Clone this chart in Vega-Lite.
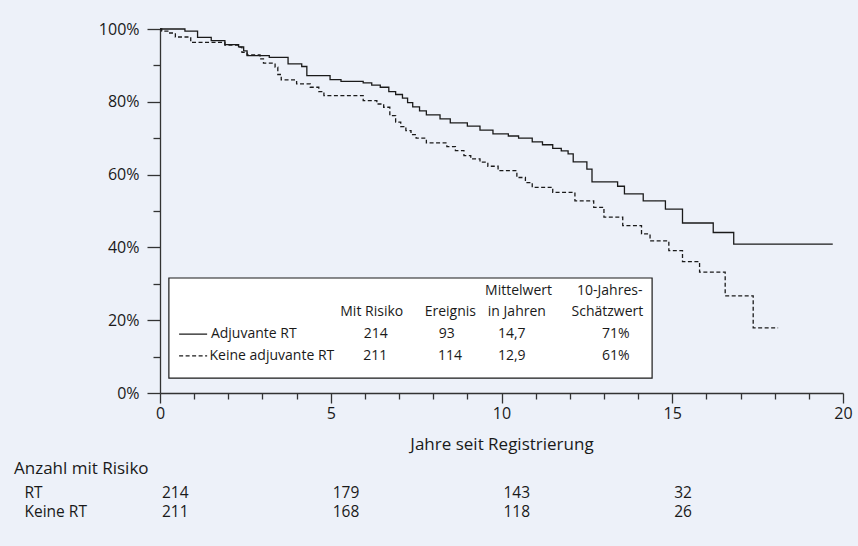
{
  "$schema": "https://vega.github.io/schema/vega-lite/v6.json",
  "autosize": {"type": "pad"},
  "padding": {"left": 14, "top": 21, "right": 8, "bottom": 30},
  "background": "#edf1f9",
  "config": {
    "view": {"stroke": null},
    "font": "Open Sans",
    "axis": {"labelFont": "Open Sans", "titleFont": "Open Sans", "labelColor": "#1a1a1a", "titleColor": "#1a1a1a", "domainColor": "#333333", "tickColor": "#333333", "grid": false, "labelFontSize": 16, "titleFontSize": 17, "titleFontWeight": "normal", "domainWidth": 1.3, "tickWidth": 1.3},
    "text": {"font": "Open Sans", "color": "#1a1a1a"}
  },
  "datasets": {
    "km": [
      {"group": "Adjuvante RT", "t": 0, "s": 100},
      {"group": "Adjuvante RT", "t": 0.73, "s": 99.4},
      {"group": "Adjuvante RT", "t": 1.1, "s": 97.7},
      {"group": "Adjuvante RT", "t": 1.5, "s": 96.8},
      {"group": "Adjuvante RT", "t": 1.9, "s": 95.7},
      {"group": "Adjuvante RT", "t": 2.3, "s": 95.1},
      {"group": "Adjuvante RT", "t": 2.45, "s": 94.0},
      {"group": "Adjuvante RT", "t": 2.55, "s": 92.7},
      {"group": "Adjuvante RT", "t": 3.2, "s": 92.2},
      {"group": "Adjuvante RT", "t": 3.75, "s": 90.4},
      {"group": "Adjuvante RT", "t": 4.15, "s": 89.7},
      {"group": "Adjuvante RT", "t": 4.3, "s": 87.2},
      {"group": "Adjuvante RT", "t": 4.98, "s": 86.1},
      {"group": "Adjuvante RT", "t": 5.3, "s": 85.6},
      {"group": "Adjuvante RT", "t": 5.95, "s": 85.2},
      {"group": "Adjuvante RT", "t": 6.2, "s": 84.6},
      {"group": "Adjuvante RT", "t": 6.45, "s": 84.0},
      {"group": "Adjuvante RT", "t": 6.7, "s": 82.8},
      {"group": "Adjuvante RT", "t": 6.9, "s": 82.0},
      {"group": "Adjuvante RT", "t": 7.1, "s": 81.0},
      {"group": "Adjuvante RT", "t": 7.25, "s": 79.8},
      {"group": "Adjuvante RT", "t": 7.4, "s": 78.6},
      {"group": "Adjuvante RT", "t": 7.6, "s": 77.5},
      {"group": "Adjuvante RT", "t": 7.8, "s": 76.4},
      {"group": "Adjuvante RT", "t": 8.2, "s": 75.3},
      {"group": "Adjuvante RT", "t": 8.5, "s": 74.2},
      {"group": "Adjuvante RT", "t": 9.0, "s": 73.3},
      {"group": "Adjuvante RT", "t": 9.37, "s": 72.2},
      {"group": "Adjuvante RT", "t": 9.75, "s": 71.2},
      {"group": "Adjuvante RT", "t": 10.2, "s": 70.6},
      {"group": "Adjuvante RT", "t": 10.5, "s": 70.0},
      {"group": "Adjuvante RT", "t": 10.9, "s": 69.0},
      {"group": "Adjuvante RT", "t": 11.2, "s": 68.2},
      {"group": "Adjuvante RT", "t": 11.5, "s": 67.2},
      {"group": "Adjuvante RT", "t": 11.75, "s": 66.5},
      {"group": "Adjuvante RT", "t": 11.95, "s": 65.7},
      {"group": "Adjuvante RT", "t": 12.1, "s": 63.5},
      {"group": "Adjuvante RT", "t": 12.5, "s": 61.5},
      {"group": "Adjuvante RT", "t": 12.65, "s": 58.0},
      {"group": "Adjuvante RT", "t": 13.4, "s": 56.8},
      {"group": "Adjuvante RT", "t": 13.6, "s": 54.7},
      {"group": "Adjuvante RT", "t": 14.15, "s": 52.8},
      {"group": "Adjuvante RT", "t": 14.8, "s": 50.5},
      {"group": "Adjuvante RT", "t": 15.3, "s": 46.7},
      {"group": "Adjuvante RT", "t": 16.2, "s": 44.1},
      {"group": "Adjuvante RT", "t": 16.8, "s": 40.9},
      {"group": "Adjuvante RT", "t": 19.7, "s": 40.9},
      {"group": "Keine adjuvante RT", "t": 0, "s": 100},
      {"group": "Keine adjuvante RT", "t": 0.05, "s": 99.4},
      {"group": "Keine adjuvante RT", "t": 0.23, "s": 98.9},
      {"group": "Keine adjuvante RT", "t": 0.45, "s": 97.8},
      {"group": "Keine adjuvante RT", "t": 0.9, "s": 96.3},
      {"group": "Keine adjuvante RT", "t": 1.9, "s": 95.6},
      {"group": "Keine adjuvante RT", "t": 2.3, "s": 95.0},
      {"group": "Keine adjuvante RT", "t": 2.4, "s": 93.6},
      {"group": "Keine adjuvante RT", "t": 2.55, "s": 92.9},
      {"group": "Keine adjuvante RT", "t": 2.93, "s": 91.8},
      {"group": "Keine adjuvante RT", "t": 3.03, "s": 90.6},
      {"group": "Keine adjuvante RT", "t": 3.37, "s": 89.5},
      {"group": "Keine adjuvante RT", "t": 3.45, "s": 87.5},
      {"group": "Keine adjuvante RT", "t": 3.55, "s": 86.0},
      {"group": "Keine adjuvante RT", "t": 4.0, "s": 84.9},
      {"group": "Keine adjuvante RT", "t": 4.4, "s": 84.0},
      {"group": "Keine adjuvante RT", "t": 4.65, "s": 82.8},
      {"group": "Keine adjuvante RT", "t": 4.8, "s": 81.7},
      {"group": "Keine adjuvante RT", "t": 5.95, "s": 80.3},
      {"group": "Keine adjuvante RT", "t": 6.35, "s": 79.4},
      {"group": "Keine adjuvante RT", "t": 6.55, "s": 78.5},
      {"group": "Keine adjuvante RT", "t": 6.73, "s": 76.2},
      {"group": "Keine adjuvante RT", "t": 6.9, "s": 74.4},
      {"group": "Keine adjuvante RT", "t": 7.05, "s": 73.2},
      {"group": "Keine adjuvante RT", "t": 7.2, "s": 72.1},
      {"group": "Keine adjuvante RT", "t": 7.35, "s": 71.0},
      {"group": "Keine adjuvante RT", "t": 7.5, "s": 70.0},
      {"group": "Keine adjuvante RT", "t": 7.8, "s": 68.7},
      {"group": "Keine adjuvante RT", "t": 8.4, "s": 67.7},
      {"group": "Keine adjuvante RT", "t": 8.65, "s": 66.6},
      {"group": "Keine adjuvante RT", "t": 8.9, "s": 65.2},
      {"group": "Keine adjuvante RT", "t": 9.1, "s": 64.3},
      {"group": "Keine adjuvante RT", "t": 9.37, "s": 63.4},
      {"group": "Keine adjuvante RT", "t": 9.6, "s": 62.3},
      {"group": "Keine adjuvante RT", "t": 9.9, "s": 61.1},
      {"group": "Keine adjuvante RT", "t": 10.45, "s": 59.2},
      {"group": "Keine adjuvante RT", "t": 10.7, "s": 57.8},
      {"group": "Keine adjuvante RT", "t": 10.9, "s": 56.5},
      {"group": "Keine adjuvante RT", "t": 11.5, "s": 55.1},
      {"group": "Keine adjuvante RT", "t": 12.15, "s": 52.8},
      {"group": "Keine adjuvante RT", "t": 12.7, "s": 51.0},
      {"group": "Keine adjuvante RT", "t": 13.0, "s": 48.3},
      {"group": "Keine adjuvante RT", "t": 13.55, "s": 46.0},
      {"group": "Keine adjuvante RT", "t": 14.1, "s": 43.7},
      {"group": "Keine adjuvante RT", "t": 14.35, "s": 41.8},
      {"group": "Keine adjuvante RT", "t": 14.9, "s": 39.1},
      {"group": "Keine adjuvante RT", "t": 15.3, "s": 36.1},
      {"group": "Keine adjuvante RT", "t": 15.8, "s": 33.2},
      {"group": "Keine adjuvante RT", "t": 16.55, "s": 26.7},
      {"group": "Keine adjuvante RT", "t": 17.37, "s": 17.9},
      {"group": "Keine adjuvante RT", "t": 18.1, "s": 17.9}
    ],
    "legendBox": [{"t": 0.26, "t2": 14.41, "s": 31.6, "s2": 4.1}],
    "legendLines": [
      {"group": "Adjuvante RT", "t": 0.56, "t2": 1.38, "s": 16.2},
      {"group": "Keine adjuvante RT", "t": 0.56, "t2": 1.38, "s": 10.2}
    ],
    "legendLeft": [
      {"label": "Adjuvante RT", "t": 1.49, "s": 16.2},
      {"label": "Keine adjuvante RT", "t": 1.45, "s": 10.2}
    ],
    "legendCenter": [
      {"label": "Mittelwert", "t": 10.5, "s": 27.9},
      {"label": "10-Jahres-", "t": 13.17, "s": 27.9},
      {"label": "Mit Risiko", "t": 6.2, "s": 22.2},
      {"label": "Ereignis", "t": 8.5, "s": 22.2},
      {"label": "in Jahren", "t": 10.45, "s": 22.2},
      {"label": "Schätzwert", "t": 13.1, "s": 22.2},
      {"label": "214", "t": 6.32, "s": 16.2},
      {"label": "93", "t": 8.4, "s": 16.2},
      {"label": "14,7", "t": 10.3, "s": 16.2},
      {"label": "71%", "t": 13.35, "s": 16.2},
      {"label": "211", "t": 6.3, "s": 10.2},
      {"label": "114", "t": 8.49, "s": 10.2},
      {"label": "12,9", "t": 10.3, "s": 10.2},
      {"label": "61%", "t": 13.35, "s": 10.2}
    ],
    "risk": [
      {"arm": "RT", "t": 0, "n": 214},
      {"arm": "RT", "t": 5, "n": 179},
      {"arm": "RT", "t": 10, "n": 143},
      {"arm": "RT", "t": 15, "n": 32},
      {"arm": "Keine RT", "t": 0, "n": 211},
      {"arm": "Keine RT", "t": 5, "n": 168},
      {"arm": "Keine RT", "t": 10, "n": 118},
      {"arm": "Keine RT", "t": 15, "n": 26}
    ]
  },
  "vconcat": [
    {
      "width": 683,
      "height": 364,
      "layer": [
        {
          "data": {"name": "legendBox"},
          "mark": {"type": "rect", "fill": "white", "stroke": "#1a1a1a", "strokeWidth": 1.2},
          "encoding": {
            "x": {"field": "t", "type": "quantitative", "scale": {"domain": [0, 20], "nice": false},
              "axis": {"values": [0, 1, 2, 3, 4, 5, 6, 7, 8, 9, 10, 11, 12, 13, 14, 15, 16, 17, 18, 19, 20],
                "tickCount": 40,
                "tickSize": {"condition": {"test": "datum.value % 5 === 0", "value": 10}, "value": 6},
                "labelExpr": "datum.value % 5 === 0 ? format(datum.value, 'd') : ''",
                "labelOverlap": false,
                "labelPadding": 2, "labelFlush": false,
                "title": "Jahre seit Registrierung", "titlePadding": 15}},
            "x2": {"field": "t2"},
            "y": {"field": "s", "type": "quantitative", "scale": {"domain": [0, 100], "nice": false},
              "axis": {"values": [0, 10, 20, 30, 40, 50, 60, 70, 80, 90, 100],
                "tickCount": 40,
                "tickSize": {"condition": {"test": "datum.value % 20 === 0", "value": 13}, "value": 7},
                "labelExpr": "datum.value % 20 === 0 ? format(datum.value, 'd') + '%' : ''",
                "labelOverlap": false,
                "labelPadding": 8, "title": null}},
            "y2": {"field": "s2"}
          }
        },
        {
          "data": {"name": "km"},
          "mark": {"type": "line", "interpolate": "step-after", "color": "#1a1a1a", "strokeWidth": 1.3},
          "encoding": {
            "x": {"field": "t", "type": "quantitative"},
            "y": {"field": "s", "type": "quantitative"},
            "detail": {"field": "group"},
            "strokeDash": {"field": "group", "type": "nominal", "scale": {"domain": ["Adjuvante RT", "Keine adjuvante RT"], "range": [[1, 0], [4, 2.5]]}, "legend": null}
          }
        },
        {
          "data": {"name": "legendLines"},
          "mark": {"type": "rule", "color": "#1a1a1a", "strokeWidth": 1.2},
          "encoding": {
            "x": {"field": "t", "type": "quantitative"},
            "x2": {"field": "t2"},
            "y": {"field": "s", "type": "quantitative"},
            "strokeDash": {"field": "group", "type": "nominal", "legend": null}
          }
        },
        {
          "data": {"name": "legendLeft"},
          "mark": {"type": "text", "align": "left", "baseline": "middle", "fontSize": 14},
          "encoding": {
            "x": {"field": "t", "type": "quantitative"},
            "y": {"field": "s", "type": "quantitative"},
            "text": {"field": "label"}
          }
        },
        {
          "data": {"name": "legendCenter"},
          "mark": {"type": "text", "align": "center", "baseline": "middle", "fontSize": 14},
          "encoding": {
            "x": {"field": "t", "type": "quantitative"},
            "y": {"field": "s", "type": "quantitative"},
            "text": {"field": "label"}
          }
        }
      ]
    },
    {
      "width": 683,
      "height": 38,
      "title": {"text": "Anzahl mit Risiko", "anchor": "start", "frame": "bounds", "fontSize": 17, "fontWeight": "normal", "font": "Open Sans", "color": "#1a1a1a", "offset": 5, "dx": -10},
      "data": {"name": "risk"},
      "mark": {"type": "text", "align": "left", "baseline": "middle", "fontSize": 15.5, "dx": 2},
      "encoding": {
        "x": {"field": "t", "type": "quantitative", "scale": {"domain": [0, 20], "nice": false}, "axis": null},
        "y": {"field": "arm", "type": "nominal", "sort": ["RT", "Keine RT"], "axis": {"title": null, "ticks": false, "domain": false, "labelAlign": "left", "labelPadding": 136, "labelFontSize": 15.5}},
        "text": {"field": "n"}
      }
    }
  ],
  "spacing": 8
}
